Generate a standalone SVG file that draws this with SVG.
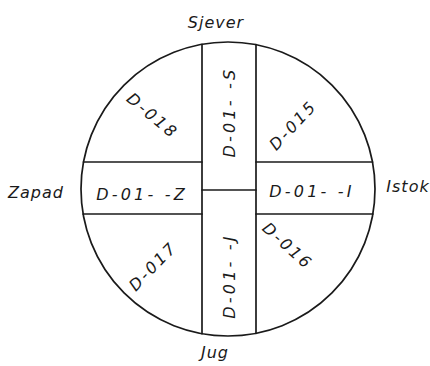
<svg xmlns="http://www.w3.org/2000/svg" width="430" height="366" viewBox="0 0 430 366">
<style>
.ln{stroke:#1a1a1a;stroke-width:1.7;fill:none;stroke-linecap:round}
.t{font-family:"DejaVu Sans","Liberation Sans",sans-serif;font-style:italic;font-size:16px;fill:#1a1a1a;text-anchor:middle;letter-spacing:2.5px}
.lab{letter-spacing:3.2px}
.dir{letter-spacing:1px}
</style>
<rect width="430" height="366" fill="#ffffff"/>
<g id="connectors">
<circle class="ln" cx="228" cy="189" r="147"/>
<line class="ln" x1="202" y1="44.3" x2="202" y2="333.7"/>
<line class="ln" x1="256" y1="44.7" x2="256" y2="333.3"/>
<line class="ln" x1="83.5" y1="162" x2="202" y2="162"/>
<line class="ln" x1="83.1" y1="214" x2="202" y2="214"/>
<line class="ln" x1="256" y1="162" x2="372.5" y2="162"/>
<line class="ln" x1="256" y1="214" x2="372.9" y2="214"/>
<line class="ln" x1="202" y1="190" x2="256" y2="190"/>
</g>
<g id="sjever"><text class="t dir" x="216" y="28">Sjever</text></g>
<g id="zapad"><text class="t dir" x="36" y="198">Zapad</text></g>
<g id="istok"><text class="t dir" x="408" y="192">Istok</text></g>
<g id="jug"><text class="t dir" x="215" y="358">Jug</text></g>
<g id="d01s"><text class="t lab" transform="translate(235,112) rotate(-90)">D-01- -S</text></g>
<g id="d01j"><text class="t lab" transform="translate(235,276) rotate(-90)">D-01- -J</text></g>
<g id="d01z"><text class="t lab" x="142" y="200">D-01- -Z</text></g>
<g id="d01i"><text class="t lab" x="312" y="197">D-01- -I</text></g>
<g id="d018"><text class="t" transform="translate(149,120) rotate(40)">D-018</text></g>
<g id="d015"><text class="t" transform="translate(297,129) rotate(-47)">D-015</text></g>
<g id="d017"><text class="t" transform="translate(157,270) rotate(-46)">D-017</text></g>
<g id="d016"><text class="t" transform="translate(284,250) rotate(42)">D-016</text></g>
</svg>
